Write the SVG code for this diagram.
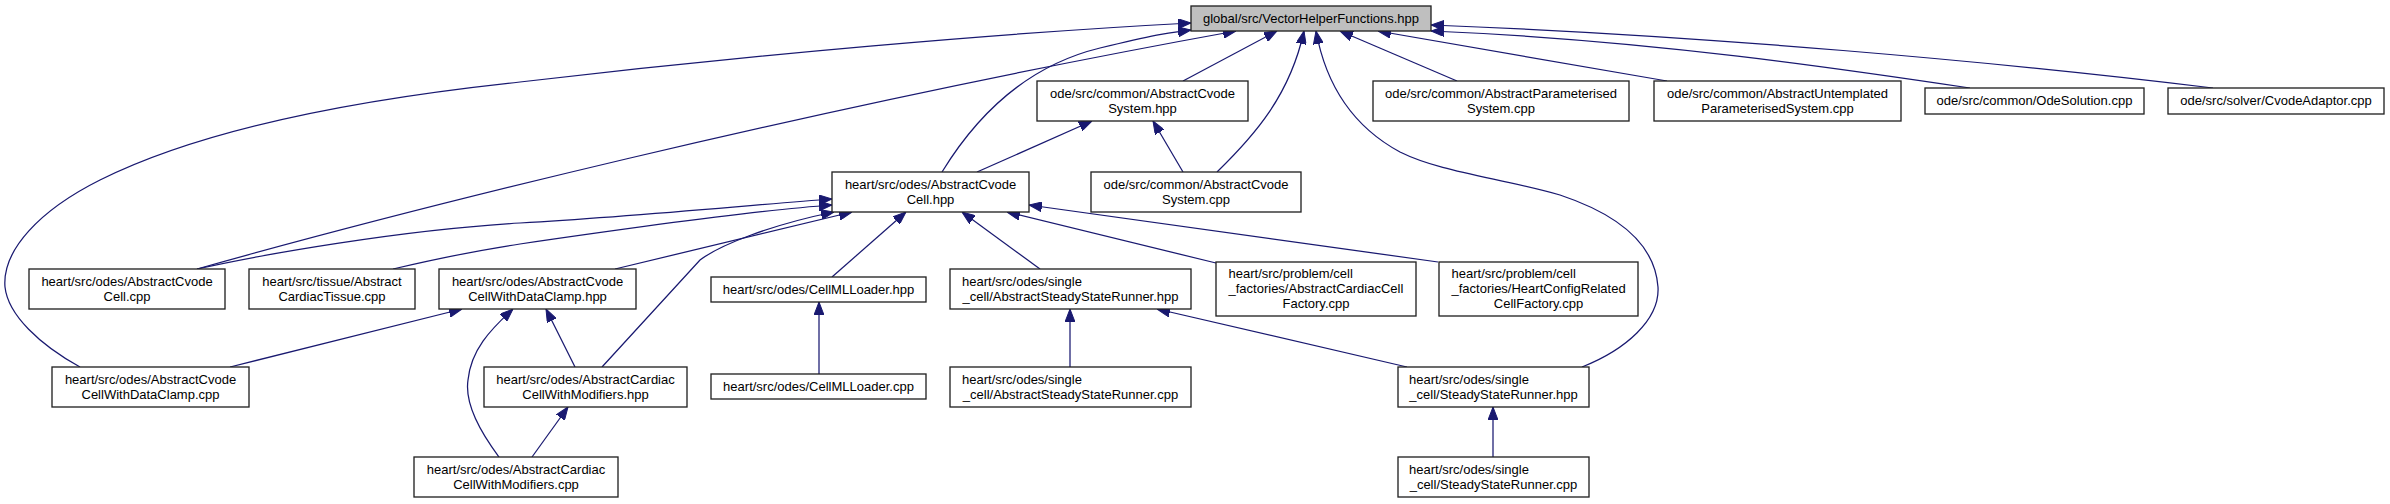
<svg xmlns="http://www.w3.org/2000/svg" width="2390" height="504" viewBox="0 0 2390 504">
<style>
  .box { fill: #ffffff; stroke: #222222; stroke-width: 1.33; }
  .root { fill: #bfbfbf; stroke: #222222; stroke-width: 1.33; }
  text { font-family: "Liberation Sans", Arial, Helvetica, sans-serif; font-size: 13px; fill: #000000; }
  .c { text-anchor: middle; }
  .l { text-anchor: start; }
  .e { fill: none; stroke: #191970; stroke-width: 1.25; marker-end: url(#arr); }
</style>
<defs>
  <marker id="arr" viewBox="0 0 13 10" refX="13" refY="5" markerWidth="13" markerHeight="10" markerUnits="userSpaceOnUse" orient="auto">
    <path d="M0,0 L13,5 L0,10 z" fill="#191970" stroke="#191970" stroke-width="1"/>
  </marker>
</defs>
<rect width="2390" height="504" fill="#ffffff"/>

<g id="edges">
  <path class="e" d="M1183,81 L1277,31"/>
  <path class="e" d="M1457,81 L1340,31"/>
  <path class="e" d="M1667,81 L1378,31"/>
  <path class="e" d="M1970,88 C1850,70 1650,40 1431,31"/>
  <path class="e" d="M2213,88 C2000,62 1700,35 1431,25"/>
  <path class="e" d="M942,172 C980,110 1030,65 1100,48 S1170,33 1191,30"/>
  <path class="e" d="M1217,172 C1255,135 1290,95 1304,31"/>
  <path class="e" d="M197,269 C400,212 800,110 1236,31"/>
  <path class="e" d="M80,367 C40,345 8,315 5,287 C2,250 40,210 100,180 C200,130 350,100 520,82 C750,55 1000,33 1191,23"/>
  <path class="e" d="M1582,367 C1625,350 1660,320 1658,287 C1655,245 1620,215 1560,195 C1500,178 1440,172 1400,152 C1350,125 1325,80 1316,31"/>
  <path class="e" d="M977,172 L1092,121"/>
  <path class="e" d="M1183,172 L1153,121"/>
  <path class="e" d="M197,269 C260,255 400,230 520,223 S750,205 832,199"/>
  <path class="e" d="M393,269 C440,258 480,250 520,244 C650,225 760,210 832,205"/>
  <path class="e" d="M602,367 L700,260 C720,245 770,225 834,212"/>
  <path class="e" d="M615,269 L852,212"/>
  <path class="e" d="M832,277 L906,212"/>
  <path class="e" d="M1040,269 L962,212"/>
  <path class="e" d="M1216,263 L1007,212"/>
  <path class="e" d="M1438,262 L1029,205"/>
  <path class="e" d="M230,367 L462,309"/>
  <path class="e" d="M499,457 C475,425 465,400 468,380 C471,350 490,330 513,309"/>
  <path class="e" d="M575,367 L546,309"/>
  <path class="e" d="M532,457 L568,407"/>
  <path class="e" d="M819,374 L819,302"/>
  <path class="e" d="M1070,367 L1070,309"/>
  <path class="e" d="M1407,367 L1157,309"/>
  <path class="e" d="M1493,457 L1493,407"/>
</g>

<g id="node-root">
  <rect class="root" x="1191" y="6" width="240" height="25"/>
  <text class="c" x="1311" y="22.5">global/src/VectorHelperFunctions.hpp</text>
</g>
<g id="node-AbstractCvodeSystem-hpp">
  <rect class="box" x="1037" y="81" width="211" height="40"/>
  <text class="c" x="1142.5" y="97.5">ode/src/common/AbstractCvode</text>
  <text class="c" x="1142.5" y="112.5">System.hpp</text>
</g>
<g id="node-AbstractParameterisedSystem-cpp">
  <rect class="box" x="1373" y="81" width="256" height="40"/>
  <text class="c" x="1501" y="97.5">ode/src/common/AbstractParameterised</text>
  <text class="c" x="1501" y="112.5">System.cpp</text>
</g>
<g id="node-AbstractUntemplatedParameterisedSystem-cpp">
  <rect class="box" x="1654" y="81" width="247" height="40"/>
  <text class="c" x="1777.5" y="97.5">ode/src/common/AbstractUntemplated</text>
  <text class="c" x="1777.5" y="112.5">ParameterisedSystem.cpp</text>
</g>
<g id="node-OdeSolution-cpp">
  <rect class="box" x="1925" y="88" width="219" height="26"/>
  <text class="c" x="2034.5" y="105">ode/src/common/OdeSolution.cpp</text>
</g>
<g id="node-CvodeAdaptor-cpp">
  <rect class="box" x="2168" y="88" width="216" height="26"/>
  <text class="c" x="2276" y="105">ode/src/solver/CvodeAdaptor.cpp</text>
</g>
<g id="node-AbstractCvodeCell-hpp">
  <rect class="box" x="832" y="172" width="197" height="40"/>
  <text class="c" x="930.5" y="188.5">heart/src/odes/AbstractCvode</text>
  <text class="c" x="930.5" y="203.5">Cell.hpp</text>
</g>
<g id="node-AbstractCvodeSystem-cpp">
  <rect class="box" x="1091" y="172" width="210" height="40"/>
  <text class="c" x="1196" y="188.5">ode/src/common/AbstractCvode</text>
  <text class="c" x="1196" y="203.5">System.cpp</text>
</g>
<g id="node-AbstractCvodeCell-cpp">
  <rect class="box" x="29" y="269" width="196" height="40"/>
  <text class="c" x="127" y="285.5">heart/src/odes/AbstractCvode</text>
  <text class="c" x="127" y="300.5">Cell.cpp</text>
</g>
<g id="node-AbstractCardiacTissue-cpp">
  <rect class="box" x="249" y="269" width="166" height="40"/>
  <text class="c" x="332" y="285.5">heart/src/tissue/Abstract</text>
  <text class="c" x="332" y="300.5">CardiacTissue.cpp</text>
</g>
<g id="node-AbstractCvodeCellWithDataClamp-hpp">
  <rect class="box" x="439" y="269" width="197" height="40"/>
  <text class="c" x="537.5" y="285.5">heart/src/odes/AbstractCvode</text>
  <text class="c" x="537.5" y="300.5">CellWithDataClamp.hpp</text>
</g>
<g id="node-CellMLLoader-hpp">
  <rect class="box" x="711" y="277" width="215" height="25"/>
  <text class="c" x="818.5" y="293.5">heart/src/odes/CellMLLoader.hpp</text>
</g>
<g id="node-AbstractSteadyStateRunner-hpp">
  <rect class="box" x="950" y="269" width="241" height="40"/>
  <text class="l" x="962" y="285.5">heart/src/odes/single</text>
  <text class="c" x="1070.5" y="300.5">_cell/AbstractSteadyStateRunner.hpp</text>
</g>
<g id="node-AbstractCardiacCellFactory-cpp">
  <rect class="box" x="1216" y="262" width="200" height="54"/>
  <text class="l" x="1228.5" y="278">heart/src/problem/cell</text>
  <text class="l" x="1228.5" y="293">_factories/AbstractCardiacCell</text>
  <text class="c" x="1316" y="308">Factory.cpp</text>
</g>
<g id="node-HeartConfigRelatedCellFactory-cpp">
  <rect class="box" x="1439" y="262" width="199" height="54"/>
  <text class="l" x="1451.5" y="278">heart/src/problem/cell</text>
  <text class="l" x="1451.5" y="293">_factories/HeartConfigRelated</text>
  <text class="c" x="1538.5" y="308">CellFactory.cpp</text>
</g>
<g id="node-AbstractCvodeCellWithDataClamp-cpp">
  <rect class="box" x="52" y="367" width="197" height="40"/>
  <text class="c" x="150.5" y="383.5">heart/src/odes/AbstractCvode</text>
  <text class="c" x="150.5" y="398.5">CellWithDataClamp.cpp</text>
</g>
<g id="node-AbstractCardiacCellWithModifiers-hpp">
  <rect class="box" x="484" y="367" width="203" height="40"/>
  <text class="c" x="585.5" y="383.5">heart/src/odes/AbstractCardiac</text>
  <text class="c" x="585.5" y="398.5">CellWithModifiers.hpp</text>
</g>
<g id="node-CellMLLoader-cpp">
  <rect class="box" x="711" y="374" width="215" height="25"/>
  <text class="c" x="818.5" y="390.5">heart/src/odes/CellMLLoader.cpp</text>
</g>
<g id="node-AbstractSteadyStateRunner-cpp">
  <rect class="box" x="950" y="367" width="241" height="40"/>
  <text class="l" x="962" y="383.5">heart/src/odes/single</text>
  <text class="c" x="1070.5" y="398.5">_cell/AbstractSteadyStateRunner.cpp</text>
</g>
<g id="node-SteadyStateRunner-hpp">
  <rect class="box" x="1398" y="367" width="191" height="40"/>
  <text class="l" x="1409" y="383.5">heart/src/odes/single</text>
  <text class="c" x="1493.5" y="398.5">_cell/SteadyStateRunner.hpp</text>
</g>
<g id="node-AbstractCardiacCellWithModifiers-cpp">
  <rect class="box" x="414" y="457" width="204" height="40"/>
  <text class="c" x="516" y="473.5">heart/src/odes/AbstractCardiac</text>
  <text class="c" x="516" y="488.5">CellWithModifiers.cpp</text>
</g>
<g id="node-SteadyStateRunner-cpp">
  <rect class="box" x="1398" y="457" width="191" height="40"/>
  <text class="l" x="1409" y="473.5">heart/src/odes/single</text>
  <text class="c" x="1493.5" y="488.5">_cell/SteadyStateRunner.cpp</text>
</g>
</svg>
